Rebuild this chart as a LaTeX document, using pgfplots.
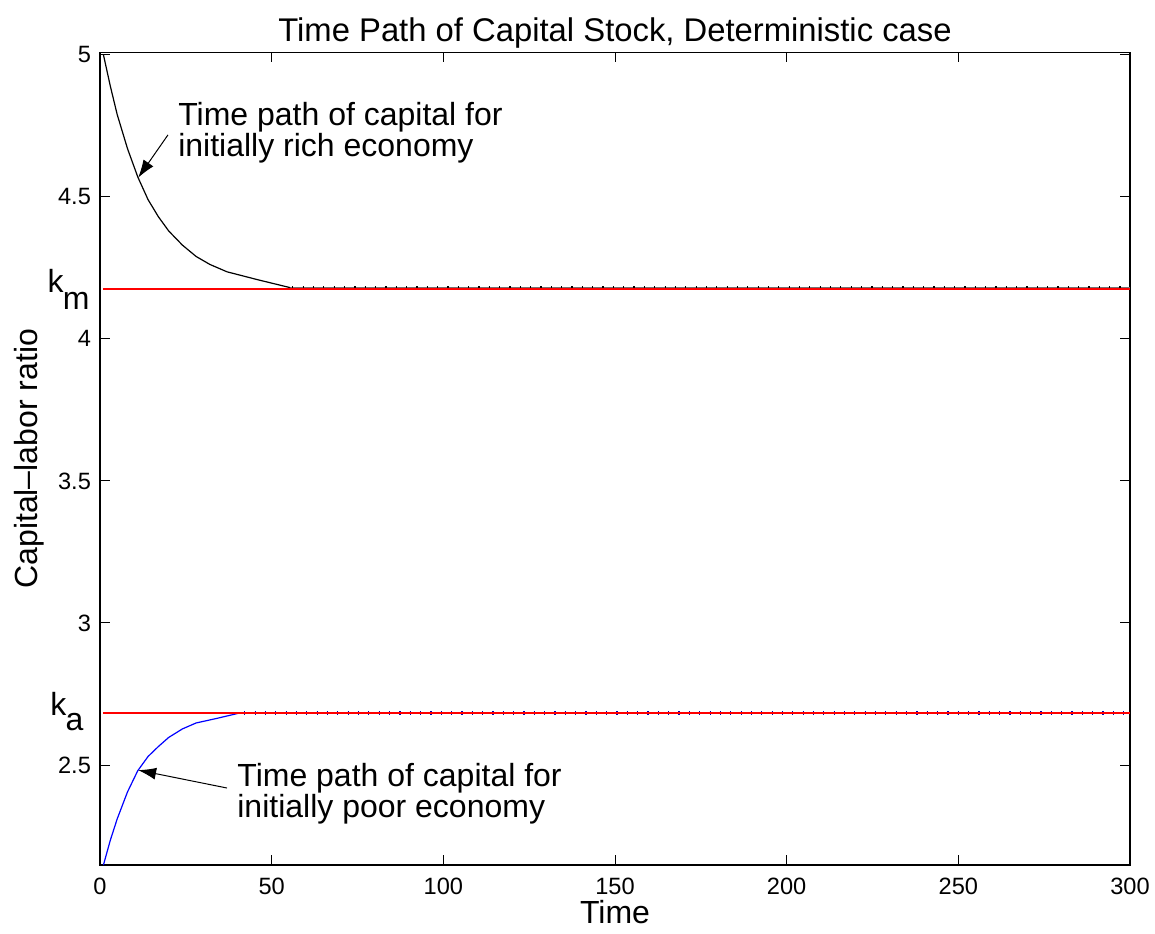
\documentclass[border=0pt]{standalone}
\usepackage{pgfplots}
\pgfplotsset{compat=1.18}
\usepackage{fontspec}
\setmainfont{Liberation Sans}
\usetikzlibrary{arrows.meta}

\begin{document}
\begin{tikzpicture}
\useasboundingbox (-50pt,-34pt) rectangle (527.5pt,432.5pt);
\begin{axis}[
  scale only axis,
  width=515pt, height=406.25pt,
  at={(0,0)}, anchor=south west,
  xmin=0, xmax=300, ymin=2.148, ymax=5.008,
  xtick={0,50,...,300},
  ytick={2.5,3,3.5,4,4.5,5},
  tick align=inside,
  major tick length=5pt,
  axis line style={line width=0.7pt},
  tick style={line width=0.5pt, black},
  /pgf/number format/assume math mode=true,
  ticklabel style={font=\fontsize{11.8}{13}\selectfont},
  xticklabel style={yshift=-3pt},
  yticklabel style={xshift=-1pt},
  xlabel={Time},
  ylabel={Capital--labor ratio},
  label style={font=\fontsize{16}{18}\selectfont},
  xlabel style={yshift=4pt},
  ylabel style={yshift=0pt},
  clip=false,
]
% initially rich economy
\addplot[black, line width=0.6pt] coordinates {
 (1,5.000) (3,4.890) (5,4.790) (8,4.670) (11,4.570) (14,4.490)
 (17,4.430) (20,4.380) (24,4.330) (28,4.290) (32,4.262) (37,4.236)
 (46,4.208) (55.5,4.180)
};
\addplot[black!55, line width=1.0pt] coordinates {(55.5,4.180) (300,4.180)};
\addplot[black, line width=2.0pt, dash pattern=on 0.6pt off 4.57pt] coordinates {(56,4.179) (300,4.179)};

% initially poor economy
\addplot[blue, line width=0.6pt] coordinates {
 (1,2.148) (3,2.235) (5,2.310) (8,2.405) (11,2.480) (14,2.530)
 (17,2.565) (20,2.597) (24,2.627) (28,2.648) (34,2.664) (41,2.684)
};
\addplot[blue!70!black, line width=2.0pt, dash pattern=on 0.6pt off 4.57pt] coordinates {(42,2.684) (300,2.684)};

% steady states k_m and k_a
\addplot[color=red, line width=0.7pt, solid] coordinates {(1,4.175) (300,4.175)};
\addplot[color=red, line width=0.8pt, solid] coordinates {(1,2.684) (300,2.684)};

% title
\node[anchor=base, inner sep=0pt, font=\fontsize{16.4}{18}\selectfont]
  at (rel axis cs:0.5,1) [yshift=5.5pt] {Time Path of Capital Stock, Deterministic case};

% annotations
\node[anchor=west, inner sep=0pt, align=left, font=\fontsize{16}{15.5}\selectfont]
  at (axis cs:22.7,4.727) {Time path of capital for\\initially rich economy};
\draw[-{Latex[length=9pt,width=6pt]}, line width=0.5pt] (axis cs:19.8,4.718) -- (axis cs:11.1,4.567);

\node[anchor=west, inner sep=0pt, align=left, font=\fontsize{16}{15.5}\selectfont]
  at (axis cs:39.9,2.398) {Time path of capital for\\initially poor economy};
\draw[-{Latex[length=9pt,width=6pt]}, line width=0.5pt] (axis cs:37,2.419) -- (axis cs:11.1,2.482);

% steady-state labels
\node[anchor=base west, inner sep=0pt, font=\fontsize{16}{18}\selectfont] at (axis cs:-15.4,4.162) {k};
\node[anchor=base west, inner sep=0pt, font=\fontsize{16}{18}\selectfont] at (axis cs:-10.9,4.102) {m};
\node[anchor=base west, inner sep=0pt, font=\fontsize{16}{18}\selectfont] at (axis cs:-14.6,2.676) {k};
\node[anchor=base west, inner sep=0pt, font=\fontsize{16}{18}\selectfont] at (axis cs:-10.1,2.620) {a};
\end{axis}
\end{tikzpicture}
\end{document}
